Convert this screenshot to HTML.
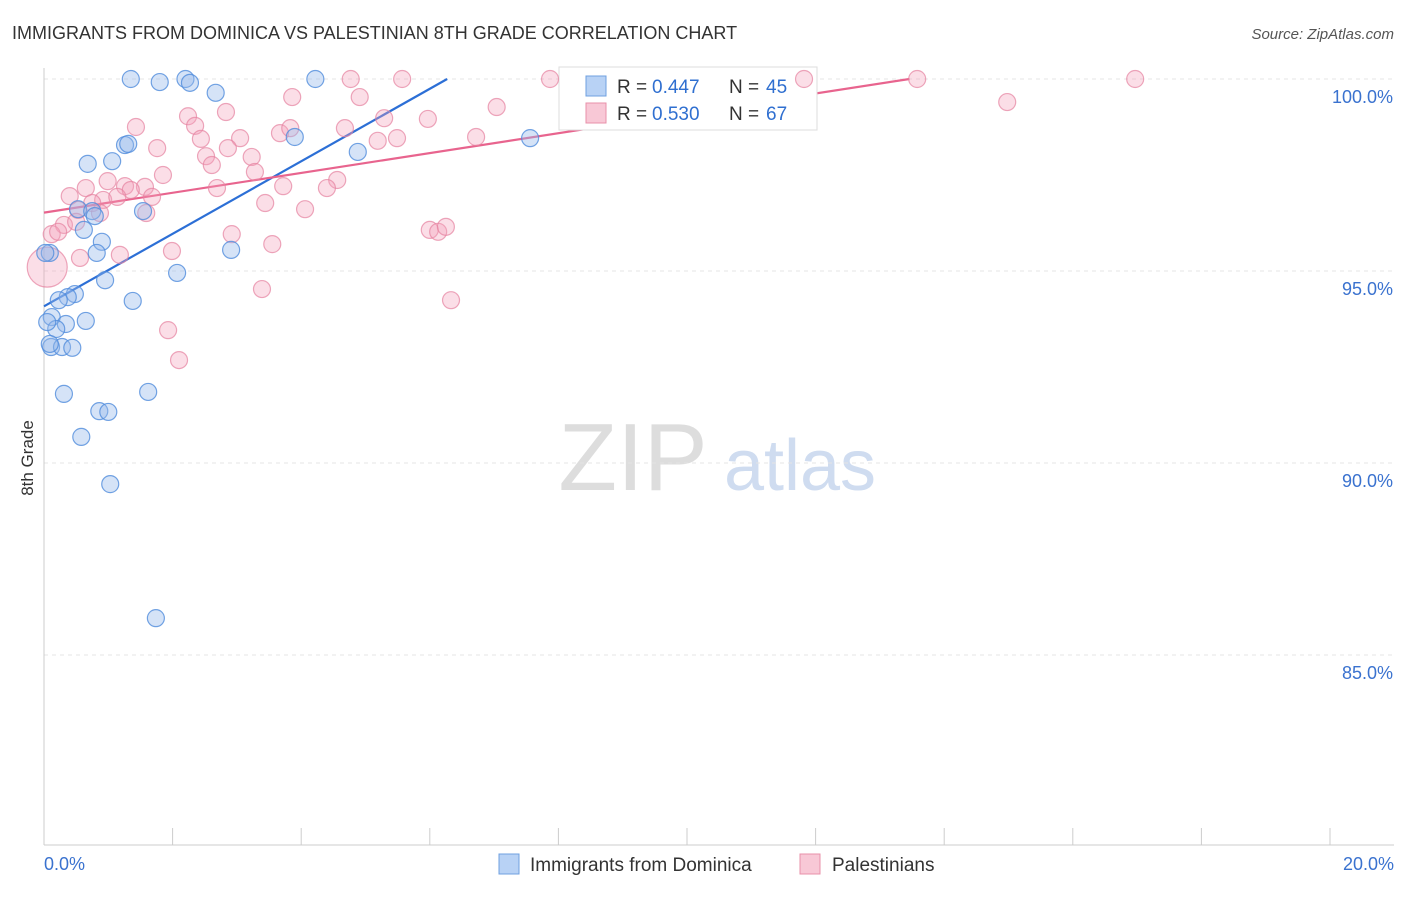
<!DOCTYPE html>
<html><head><meta charset="utf-8"><style>
body{margin:0;background:#fff;font-family:"Liberation Sans",sans-serif;}
svg text{font-family:"Liberation Sans",sans-serif;}
</style></head><body>
<svg id="chart" width="1406" height="892">
<text x="12" y="39" font-size="18" fill="#333">IMMIGRANTS FROM DOMINICA VS PALESTINIAN 8TH GRADE CORRELATION CHART</text>
<text x="1394" y="39" font-size="15" fill="#555" font-style="italic" text-anchor="end">Source: ZipAtlas.com</text>
<text x="33" y="458" font-size="17" fill="#333" transform="rotate(-90 33 458)" text-anchor="middle">8th Grade</text>
<g><text x="633" y="490" font-size="96" fill="#ddd" font-family="Liberation Serif" text-anchor="middle">ZIP</text><text x="800" y="490" font-size="72" fill="#cfdcf0" text-anchor="middle">atlas</text></g>
<g id="grid"></g><g id="axes"></g>
<g id="lines"></g>
<g>
<rect x="559" y="67" width="258" height="63" fill="#fff" stroke="#ddd"/>
<rect x="586" y="76" width="20" height="20" fill="#b8d2f5" stroke="#6fa0e0"/>
<text x="617" y="93" font-size="19" fill="#333">R =</text><text x="652" y="93" font-size="19" fill="#2f6fd0">0.447</text>
<text x="729" y="93" font-size="19" fill="#333">N =</text><text x="766" y="93" font-size="19" fill="#2f6fd0">45</text>
<rect x="586" y="103" width="20" height="20" fill="#f8c8d6" stroke="#e890aa"/>
<text x="617" y="120" font-size="19" fill="#333">R =</text><text x="652" y="120" font-size="19" fill="#2f6fd0">0.530</text>
<text x="729" y="120" font-size="19" fill="#333">N =</text><text x="766" y="120" font-size="19" fill="#2f6fd0">67</text>
</g>
<g id="pts"></g>
<g>
<rect x="499" y="854" width="20" height="20" fill="#b8d2f5" stroke="#6fa0e0"/>
<text x="530" y="871" font-size="19" fill="#333">Immigrants from Dominica</text>
<rect x="800" y="854" width="20" height="20" fill="#f8c8d6" stroke="#e890aa"/>
<text x="832" y="871" font-size="19" fill="#333">Palestinians</text>
</g>
</svg>
<script>
const yTicks=[100,95,90,85];
const xTickLabels=["0.0%","20.0%"];
const blueX=[1.35,1.8,2.2,2.27,4.22,2.67,1.26,1.31,3.9,4.88,7.56,0.68,1.06,0.53,0.75,0.79,1.54,0.62,0.9,0.82,0.09,0.95,2.07,2.91,0.48,0.37,0.23,1.38,0.12,0.65,0.34,0.19,0.11,0.28,0.44,0.31,1.62,0.86,1.0,0.58,1.03,1.74,0.05,0.09,0.02];
const blueY=[100,99.92,100,99.9,100,99.64,98.28,98.31,98.49,98.1,98.46,97.79,97.86,96.61,96.56,96.43,96.56,96.07,95.76,95.47,95.47,94.76,94.95,95.55,94.4,94.32,94.24,94.22,93.8,93.7,93.62,93.49,93.02,93.02,93.0,91.8,91.85,91.35,91.33,90.68,89.45,85.96,93.67,93.1,95.47];
const pinkX=[7.87,11.82,13.58,16.97,4.77,5.57,14.98,3.86,4.91,7.04,2.24,2.83,2.35,1.43,5.97,5.29,3.67,3.83,4.68,2.44,3.05,5.19,5.49,6.72,1.76,2.86,2.52,2.61,3.23,3.28,1.85,4.56,4.4,0.99,1.26,1.57,1.35,0.65,2.69,3.72,0.4,0.92,0.75,1.14,1.68,3.44,4.06,0.53,0.87,1.59,0.31,0.5,0.12,0.22,2.92,3.55,6.0,6.13,6.25,1.99,1.18,0.56,0.05,3.39,6.33,1.93,2.1];
const pinkY=[100,100,100,100,100,100,99.4,99.53,99.53,99.27,99.03,99.14,98.78,98.75,98.96,98.98,98.59,98.72,98.72,98.44,98.46,98.39,98.46,98.49,98.2,98.2,97.99,97.76,97.97,97.58,97.5,97.37,97.16,97.34,97.21,97.19,97.11,97.16,97.16,97.21,96.95,96.85,96.77,96.93,96.93,96.77,96.61,96.59,96.51,96.51,96.2,96.28,95.96,96.02,95.96,95.7,96.07,96.02,96.15,95.52,95.42,95.34,95.1,94.53,94.24,93.46,92.68];
const blueLine=[[0,94.08],[6.27,100]];
const pinkLine=[[0,96.52],[13.46,100]];
const X=v=>44+v*64.3, Y=v=>79+(100-v)*38.4;
const NS="http://www.w3.org/2000/svg";
function mk(t,a,p){const e=document.createElementNS(NS,t);for(const k in a)e.setAttribute(k,a[k]);p.appendChild(e);return e;}
const grid=document.getElementById('grid'),axes=document.getElementById('axes'),pts=document.getElementById('pts'),lines=document.getElementById('lines');
yTicks.forEach(t=>{const l=mk('line',{x1:44,x2:1394,y1:Y(t),y2:Y(t),stroke:'#e4e4e4','stroke-dasharray':'4,4'},grid);


const tx=mk('text',{x:1393,y:Y(t)+24,'font-size':18,fill:'#3a72cf','text-anchor':'end'},axes);tx.textContent=t.toFixed(1)+'%';

});
mk('line',{x1:44,x2:44,y1:68,y2:845,stroke:'#ccc'},axes);
mk('line',{x1:44,x2:1394,y1:845,y2:845,stroke:'#ccc'},axes);
for(let i=0;i<=10;i++){mk('line',{x1:X(i*2),x2:X(i*2),y1:828,y2:845,stroke:'#ccc'},axes);}
[[0,'start',44],[1,'end',1394]].forEach(([i,a,x])=>{const t=mk('text',{x:x,y:870,'font-size':18,fill:'#3a72cf','text-anchor':a},axes);t.textContent=xTickLabels[i];

});
pinkX.forEach((v,i)=>{const r=(i==62)?20:8.5;const c=mk('circle',{cx:X(v),cy:Y(pinkY[i]),r:r,fill:'rgba(244,160,185,0.35)',stroke:'rgba(230,130,160,0.7)','stroke-width':1.2},pts);

});
blueX.forEach((v,i)=>{const c=mk('circle',{cx:X(v),cy:Y(blueY[i]),r:8.5,fill:'rgba(150,185,235,0.4)',stroke:'rgba(80,140,220,0.8)','stroke-width':1.2},pts);

});
const bl=mk('line',{x1:X(blueLine[0][0]),y1:Y(blueLine[0][1]),x2:X(blueLine[1][0]),y2:Y(blueLine[1][1]),stroke:'#2c6fd6','stroke-width':2.2},lines);


const pl=mk('line',{x1:X(pinkLine[0][0]),y1:Y(pinkLine[0][1]),x2:X(pinkLine[1][0]),y2:Y(pinkLine[1][1]),stroke:'#e8648e','stroke-width':2.2},lines);


</script>
</body></html>
